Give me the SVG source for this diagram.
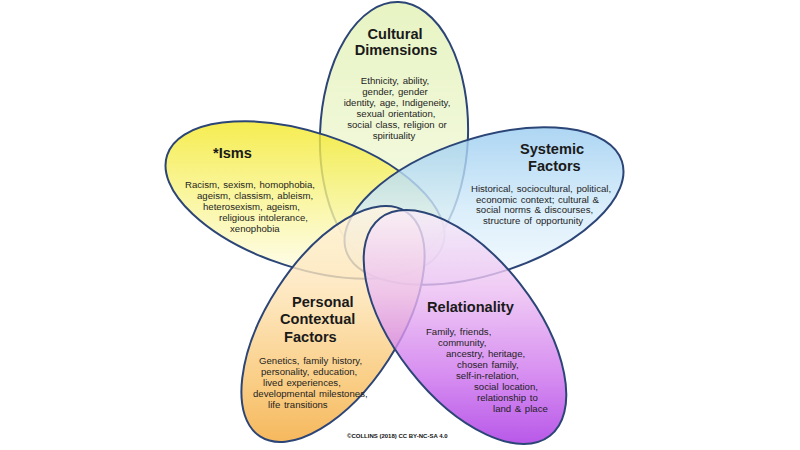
<svg xmlns="http://www.w3.org/2000/svg" width="800" height="450" viewBox="0 0 800 450">
<defs>
<linearGradient id="gGreen" gradientUnits="userSpaceOnUse" x1="0" y1="2" x2="0" y2="270" gradientTransform="rotate(-2 394 135)"><stop offset="0" stop-color="#e2f1b4"/><stop offset="1" stop-color="#f6fbe6"/></linearGradient>
<linearGradient id="gYellow" gradientUnits="userSpaceOnUse" x1="0" y1="120" x2="0" y2="282" gradientTransform="rotate(-18 305 200)"><stop offset="0" stop-color="#f3e823"/><stop offset="0.45" stop-color="#f8f384"/><stop offset="1" stop-color="#fffef2"/></linearGradient>
<linearGradient id="gBlue" gradientUnits="userSpaceOnUse" x1="0" y1="126" x2="0" y2="288" gradientTransform="rotate(18 484 206)"><stop offset="0" stop-color="#98cbf0"/><stop offset="0.5" stop-color="#d0e9f9"/><stop offset="1" stop-color="#f6fbfe"/></linearGradient>
<linearGradient id="gOrange" gradientUnits="userSpaceOnUse" x1="0" y1="205" x2="0" y2="445" gradientTransform="rotate(57 333 324)"><stop offset="0" stop-color="#fff5e4"/><stop offset="0.4" stop-color="#fde0ac"/><stop offset="0.75" stop-color="#f8c064"/><stop offset="1" stop-color="#f3a533"/></linearGradient>
<linearGradient id="gPurple" gradientUnits="userSpaceOnUse" x1="0" y1="212" x2="0" y2="444" gradientTransform="rotate(-52 465 327)"><stop offset="0" stop-color="#f8ecf8"/><stop offset="0.35" stop-color="#ebbcf2"/><stop offset="0.7" stop-color="#cd72ed"/><stop offset="1" stop-color="#a62fe3"/></linearGradient>
</defs>
<style>
.petal{stroke:#2c4577;stroke-width:2;fill-opacity:0.8}
.title{font-family:"Liberation Sans",Arial,sans-serif;font-weight:bold;font-size:14.6px;fill:#1a1a1a}
.body{font-family:"Liberation Sans",Arial,sans-serif;font-size:9.6px;fill:#1e1e1e;word-spacing:1px}
.mid{text-anchor:middle}
.copy{font-family:"Liberation Sans",Arial,sans-serif;font-weight:bold;font-size:6px;fill:#111}
</style>
<rect width="800" height="450" fill="#ffffff"/>
<g id="cultural">
<ellipse class="petal" cx="394" cy="135" rx="74" ry="133" transform="rotate(2 394 135)" fill="url(#gGreen)"/>
<text class="title mid" x="395" y="39">Cultural</text>
<text class="title mid" x="396" y="55">Dimensions</text>
<text class="body mid" x="395" y="84">Ethnicity, ability,</text>
<text class="body mid" x="395" y="95">gender, gender</text>
<text class="body mid" x="397" y="106">identity, age, Indigeneity,</text>
<text class="body mid" x="396" y="117">sexual orientation,</text>
<text class="body mid" x="397" y="128">social class, religion or</text>
<text class="body mid" x="394" y="139">spirituality</text>
</g>
<g id="isms">
<ellipse class="petal" cx="305" cy="200" rx="145" ry="68" transform="rotate(18 305 200)" fill="url(#gYellow)"/>
<text class="title" x="213" y="158">*Isms</text>
<text class="body" x="185" y="188">Racism, sexism, homophobia,</text>
<text class="body" x="197" y="199">ageism, classism, ableism,</text>
<text class="body" x="203" y="210">heterosexism, ageism,</text>
<text class="body" x="219" y="221">religious intolerance,</text>
<text class="body" x="230" y="232">xenophobia</text>
</g>
<g id="systemic">
<ellipse class="petal" cx="484" cy="206" rx="145" ry="68" transform="rotate(-18 484 206)" fill="url(#gBlue)"/>
<text class="title" x="520" y="154">Systemic</text>
<text class="title" x="528" y="171">Factors</text>
<text class="body" x="471" y="192">Historical, sociocultural, political,</text>
<text class="body" x="476" y="203">economic context; cultural &amp;</text>
<text class="body" x="476" y="213">social norms &amp; discourses,</text>
<text class="body" x="483" y="224">structure of opportunity</text>
</g>
<g id="personal">
<ellipse class="petal" cx="333" cy="324" rx="134" ry="66" transform="rotate(-57 333 324)" fill="url(#gOrange)"/>
<text class="title" x="292" y="307">Personal</text>
<text class="title" x="280" y="324">Contextual</text>
<text class="title" x="284" y="342">Factors</text>
<text class="body" x="259" y="364">Genetics, family history,</text>
<text class="body" x="261" y="375">personality, education,</text>
<text class="body" x="263" y="386">lived experiences,</text>
<text class="body" x="253" y="397">developmental milestones,</text>
<text class="body" x="268" y="408">life transitions</text>
</g>
<g id="relationality">
<ellipse class="petal" cx="465" cy="327" rx="138" ry="70" transform="rotate(52 465 327)" fill="url(#gPurple)"/>
<text class="title" x="427" y="312">Relationality</text>
<text class="body" x="426" y="335">Family, friends,</text>
<text class="body" x="438" y="346">community,</text>
<text class="body" x="446" y="357">ancestry, heritage,</text>
<text class="body" x="457" y="368">chosen family,</text>
<text class="body" x="456" y="379">self-in-relation,</text>
<text class="body" x="474" y="390">social location,</text>
<text class="body" x="477" y="401">relationship to</text>
<text class="body" x="493" y="412">land &amp; place</text>
</g>
<text class="copy" x="347" y="438">©COLLINS (2018) CC BY-NC-SA 4.0</text>
</svg>
